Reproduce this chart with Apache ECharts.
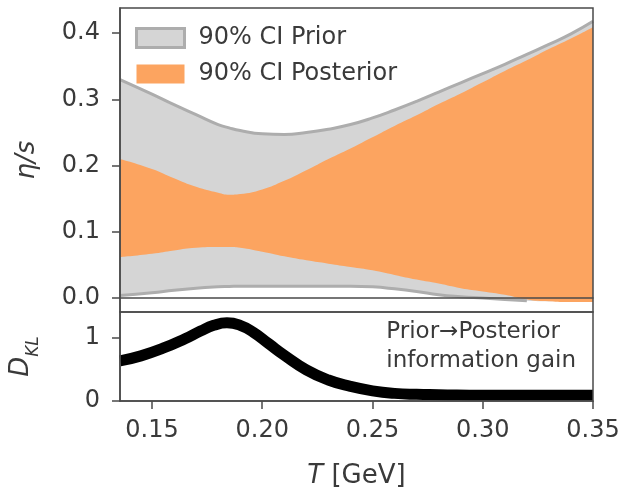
<!DOCTYPE html>
<html>
<head>
<meta charset="utf-8">
<script src="https://cdn.jsdelivr.net/npm/echarts@6/dist/echarts.min.js"></script>
<style>html,body{margin:0;padding:0;background:#fff;}#c{width:623px;height:490px;}</style>
</head>
<body>
<div id="c"></div>
<script>
// ---- data ----
var T = [0.1355, 0.15, 0.16, 0.17, 0.18, 0.185, 0.19, 0.20, 0.21, 0.22, 0.23, 0.24, 0.25, 0.26, 0.27, 0.28, 0.29, 0.30, 0.31, 0.32, 0.33, 0.34, 0.35];
var priorHigh = [0.330, 0.308, 0.292, 0.277, 0.262, 0.257, 0.253, 0.248, 0.247, 0.250, 0.255, 0.262, 0.272, 0.284, 0.297, 0.311, 0.325, 0.339, 0.353, 0.368, 0.383, 0.399, 0.418];
var priorLow  = [0.004, 0.008, 0.012, 0.015, 0.017, 0.0175, 0.018, 0.018, 0.018, 0.018, 0.018, 0.018, 0.017, 0.014, 0.010, 0.005, 0.002, 0.000, -0.002, -0.004, -0.005, -0.006, -0.006];
var postHigh  = [0.210, 0.195, 0.181, 0.168, 0.159, 0.156, 0.157, 0.164, 0.177, 0.193, 0.210, 0.226, 0.243, 0.260, 0.276, 0.293, 0.309, 0.326, 0.343, 0.359, 0.376, 0.392, 0.409];
var postLow   = [0.062, 0.067, 0.072, 0.076, 0.077, 0.077, 0.076, 0.070, 0.063, 0.057, 0.052, 0.047, 0.042, 0.035, 0.028, 0.022, 0.015, 0.010, 0.005, -0.002, -0.005, -0.006, -0.006];

var Tkl = [0.1355, 0.145, 0.155, 0.165, 0.172, 0.178, 0.184, 0.19, 0.196, 0.203, 0.21, 0.22, 0.23, 0.24, 0.25, 0.26, 0.27, 0.28, 0.30, 0.32, 0.35];
var dkl = [0.63, 0.71, 0.83, 0.98, 1.10, 1.19, 1.23, 1.19, 1.08, 0.90, 0.72, 0.49, 0.33, 0.23, 0.16, 0.12, 0.105, 0.10, 0.09, 0.09, 0.09];

var xTicks = [0.15, 0.20, 0.25, 0.30, 0.35];
var yTicksTop = [0.0, 0.1, 0.2, 0.3, 0.4];
var yTicksBottom = [0, 1];
var legendNames = ['90% CI Prior', '90% CI Posterior'];
var noteLines = ['Prior\u2192Posterior', 'information gain'];

// ---- helpers ----
function pairs(xs, ys) { return xs.map(function (x, i) { return [x, ys[i]]; }); }
// prior lower edge is hidden where it merges with the posterior lower bound
function lowerEdge() {
  return T.map(function (x, i) {
    return [x, (postLow[i] - priorLow[i] > 0.001) ? priorLow[i] : null];
  });
}

var FONT = 'DejaVu Sans';
var TXT = '#3a3a3a';
var AX = '#4a4a4a';
var GRAY_FILL = '#d5d5d5';
var GRAY_LINE = '#adadad';
var ORANGE = '#fca460';
var SM = 0.5;

var chart = echarts.init(document.getElementById('c'), null, {renderer: 'canvas'});

var xMin = 0.1355, xMax = 0.35;

// filled layer: area under a curve down to the axis minimum
function fillUnder(name, ys, color, z) {
  return {type: 'line', name: name, xAxisIndex: 0, yAxisIndex: 0, data: pairs(T, ys),
    smooth: SM, showSymbol: false, silent: true,
    itemStyle: {color: color},
    lineStyle: {width: 0, opacity: 0},
    areaStyle: {color: color, opacity: 1, origin: 'start'}, z: z};
}
function edge(name, data, z) {
  return {type: 'line', name: name, xAxisIndex: 0, yAxisIndex: 0, data: data,
    smooth: SM, showSymbol: false, silent: true, connectNulls: false,
    lineStyle: {color: GRAY_LINE, width: 3}, z: z};
}

var option = {
  animation: false,
  backgroundColor: '#ffffff',
  textStyle: {fontFamily: FONT, color: TXT},
  grid: [
    {left: 120, right: 30, top: 8, height: 304, show: true, z: 10, borderColor: AX, borderWidth: 1.5, backgroundColor: 'transparent'},
    {left: 120, right: 30, top: 312, height: 91, show: true, z: 10, borderColor: AX, borderWidth: 1.5, backgroundColor: 'transparent'}
  ],
  xAxis: [
    {type: 'value', gridIndex: 0, min: xMin, max: xMax, z: 10,
      axisLine: {show: true, lineStyle: {color: AX, width: 1.5}}, axisTick: {show: false}, axisLabel: {show: false}, splitLine: {show: false}},
    {type: 'value', gridIndex: 1, min: xMin, max: xMax, z: 10,
      axisLine: {show: true, lineStyle: {color: AX, width: 1.5}},
      axisTick: {show: true, length: 8, inside: false, customValues: xTicks, lineStyle: {color: AX, width: 1.5}},
      axisLabel: {show: true, customValues: xTicks, margin: 18, fontSize: 24, fontFamily: FONT, color: TXT,
        formatter: function (v) { return v.toFixed(2); }},
      splitLine: {show: false},
      name: '{i|T} [GeV]', nameLocation: 'middle', nameGap: 62,
      nameTextStyle: {fontSize: 26, fontFamily: FONT, color: TXT,
        rich: {i: {fontSize: 26, fontStyle: 'italic', fontFamily: FONT, color: TXT}}}}
  ],
  yAxis: [
    {type: 'value', gridIndex: 0, min: -0.021, max: 0.438, z: 10,
      axisLine: {show: true, lineStyle: {color: AX, width: 1.5}},
      axisTick: {show: true, length: 8, customValues: yTicksTop, lineStyle: {color: AX, width: 1.5}},
      axisLabel: {show: true, customValues: yTicksTop, margin: 20, fontSize: 24, fontFamily: FONT, color: TXT,
        formatter: function (v) { return v.toFixed(1); }},
      splitLine: {show: false},
      name: '\u03b7/s', nameLocation: 'middle', nameGap: 80, nameRotate: 90,
      nameTextStyle: {fontSize: 26, fontStyle: 'italic', fontFamily: FONT, color: TXT}},
    {type: 'value', gridIndex: 1, min: 0, max: 1.4, z: 10,
      axisLine: {show: true, lineStyle: {color: AX, width: 1.5}},
      axisTick: {show: true, length: 8, customValues: yTicksBottom, lineStyle: {color: AX, width: 1.5}},
      axisLabel: {show: true, customValues: yTicksBottom, margin: 20, fontSize: 24, fontFamily: FONT, color: TXT,
        formatter: function (v) { return String(Math.round(v)); }},
      splitLine: {show: false},
      name: '{d|D}{s|KL}', nameLocation: 'middle', nameGap: 78, nameRotate: 90,
      nameTextStyle: {fontFamily: FONT, color: TXT,
        rich: {
          d: {fontSize: 26, fontStyle: 'italic', fontFamily: FONT, color: TXT, lineHeight: 34, verticalAlign: 'top'},
          s: {fontSize: 17, fontStyle: 'italic', fontFamily: FONT, color: TXT, lineHeight: 17, verticalAlign: 'bottom'}
        }}}
  ],
  legend: {
    left: 135, top: 26, orient: 'vertical', padding: 0, z: 20,
    itemWidth: 48, itemHeight: 19, itemGap: 12, icon: 'rect',
    selectedMode: false,
    textStyle: {fontSize: 24, fontFamily: FONT, color: TXT, padding: [0, 0, 0, 9]},
    data: [
      {name: legendNames[0], itemStyle: {color: GRAY_FILL, borderColor: GRAY_LINE, borderWidth: 3}},
      {name: legendNames[1], itemStyle: {color: ORANGE, borderWidth: 0}}
    ]
  },
  graphic: [
    {type: 'text', right: 623 - 576, top: 318, z: 100,
      style: {text: noteLines.join('\n'), fontSize: 23, fontFamily: FONT, fill: TXT, align: 'right', lineHeight: 29}}
  ],
  series: [
    // layered fills: gray under prior upper, white under prior lower,
    // orange under posterior upper, gray under posterior lower, white under prior lower
    fillUnder(legendNames[0], priorHigh, GRAY_FILL, 1),
    fillUnder('priorLowMask', priorLow, '#ffffff', 1),
    edge('priorHighLine', pairs(T, priorHigh), 1),
    fillUnder(legendNames[1], postHigh, ORANGE, 1),
    fillUnder('postLowFill', postLow, GRAY_FILL, 1),
    fillUnder('priorLowMask2', priorLow, '#ffffff', 1),
    edge('priorLowLine', lowerEdge(), 1),
    // KL divergence
    {type: 'line', name: 'DKL', xAxisIndex: 1, yAxisIndex: 1, data: pairs(Tkl, dkl),
      smooth: 0.5, showSymbol: false, silent: true,
      lineStyle: {color: '#000000', width: 11, cap: 'butt', join: 'round'}, z: 4}
  ]
};
chart.setOption(option);
</script>
</body>
</html>
